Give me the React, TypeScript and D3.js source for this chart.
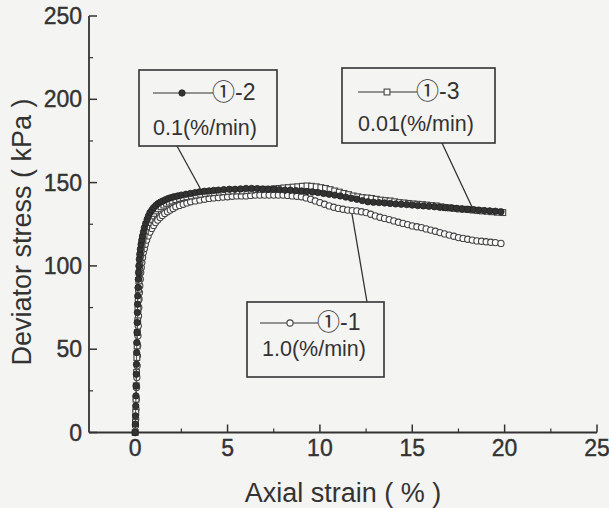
import React from "react";
import * as d3 from "d3";

const xTicks = [0, 5, 10, 15, 20, 25];
const xMinor = [2.5, 7.5, 12.5, 17.5, 22.5];
const yTicks = [0, 50, 100, 150, 200, 250];
const yMinor = [25, 75, 125, 175, 225];

// ①-2 0.1(%/min), filled circles
const s2Strain = [0, 0.01, 0.02, 0.03, 0.04, 0.05, 0.06, 0.07, 0.08, 0.09, 0.1, 0.11, 0.12, 0.13, 0.14, 0.155, 0.17, 0.185, 0.2, 0.225, 0.25, 0.28, 0.32, 0.36, 0.4, 0.45, 0.5, 0.57, 0.65, 0.72, 0.8, 0.9, 1.0, 1.12, 1.25, 1.37, 1.5, 1.65, 1.8, 1.95, 2.1, 2.3, 2.5, 2.75, 3.0, 3.25, 3.5, 3.75, 4.0, 4.25, 4.5, 4.8, 5.1, 5.4, 5.7, 6.0, 6.3, 6.6, 6.9, 7.2, 7.5, 7.8, 8.1, 8.4, 8.7, 9.0, 9.3, 9.6, 9.9, 10.2, 10.5, 10.8, 11.1, 11.4, 11.7, 12.0, 12.3, 12.6, 12.9, 13.2, 13.5, 13.8, 14.1, 14.4, 14.7, 15.0, 15.3, 15.6, 15.9, 16.2, 16.5, 16.8, 17.1, 17.4, 17.7, 18.0, 18.3, 18.6, 18.9, 19.2, 19.5, 19.8];
const s2Stress = [0, 5, 10, 16, 22, 28, 35, 41, 48, 54, 60, 66, 72, 77, 82, 87, 92, 96, 100, 104, 107, 110, 113, 115.5, 118, 120.5, 123, 125.5, 128, 130, 132, 133.5, 135, 136.3, 137.5, 138.3, 139, 139.8, 140.5, 141, 141.5, 142, 142.5, 143, 143.5, 144, 144.5, 144.8, 145, 145.3, 145.5, 145.8, 146, 146, 146.2, 146.5, 146.5, 146.4, 146.1, 146, 146, 145.8, 145.5, 145.5, 145.2, 145, 144.7, 144.4, 144, 143.5, 143, 142.5, 142, 141.3, 140.6, 140, 139.2, 138.5, 138.2, 138, 137.8, 137.5, 137.2, 137, 136.8, 136.5, 136.2, 136, 135.8, 135.5, 135.2, 135, 134.8, 134.5, 134.2, 134, 133.8, 133.5, 133.2, 133, 132.8, 132.5];

// ①-3 0.01(%/min), open squares
const s3Strain = [0, 0.015, 0.03, 0.045, 0.06, 0.075, 0.09, 0.105, 0.12, 0.135, 0.15, 0.165, 0.18, 0.2, 0.22, 0.245, 0.27, 0.3, 0.33, 0.37, 0.42, 0.48, 0.55, 0.62, 0.7, 0.8, 0.9, 1.0, 1.1, 1.25, 1.4, 1.55, 1.7, 1.85, 2.0, 2.2, 2.4, 2.6, 2.8, 3.05, 3.3, 3.55, 3.8, 4.05, 4.3, 4.55, 4.8, 5.05, 5.3, 5.55, 5.8, 6.05, 6.3, 6.55, 6.8, 7.05, 7.3, 7.55, 7.8, 8.05, 8.3, 8.55, 8.8, 9.05, 9.3, 9.55, 9.8, 10.05, 10.3, 10.55, 10.8, 11.05, 11.3, 11.55, 11.8, 12.05, 12.3, 12.55, 12.8, 13.05, 13.3, 13.55, 13.8, 14.05, 14.3, 14.55, 14.8, 15.05, 15.3, 15.55, 15.8, 16.05, 16.3, 16.55, 16.8, 17.05, 17.3, 17.55, 17.8, 18.05, 18.3, 18.55, 18.8, 19.05, 19.3, 19.6, 19.9];
const s3Stress = [0, 6, 12, 20, 28, 36, 45, 52, 60, 67, 74, 80, 86, 91, 96, 100, 104, 107, 110, 113, 116, 118.5, 121, 123.5, 126, 128, 130, 131.5, 133, 134.3, 135.5, 136.5, 137.5, 138.3, 139, 139.8, 140.5, 141, 141.5, 142, 142.5, 143, 143.5, 143.8, 144, 144.3, 144.5, 144.8, 145, 145, 145, 145.3, 145.5, 145.8, 146, 146, 146, 146.3, 146.5, 146.8, 147, 147.3, 147.5, 147.8, 148, 147.8, 147.5, 147, 146.5, 145.8, 145, 144.3, 143.5, 142.8, 142, 141.5, 141, 140.8, 140.5, 140, 139.5, 139.2, 139, 138.5, 138, 137.8, 137.5, 137.2, 137, 136.8, 136.5, 136.2, 136, 135.5, 135, 134.8, 134.5, 134.2, 134, 133.8, 133.5, 133.2, 133, 132.8, 132.5, 132.2, 132];

// ①-1 1.0(%/min), open circles
const s1Strain = [0, 0.015, 0.03, 0.045, 0.06, 0.075, 0.09, 0.105, 0.12, 0.135, 0.15, 0.165, 0.18, 0.195, 0.21, 0.23, 0.25, 0.275, 0.3, 0.33, 0.36, 0.4, 0.44, 0.5, 0.55, 0.62, 0.7, 0.8, 0.9, 1.0, 1.1, 1.22, 1.35, 1.47, 1.6, 1.75, 1.9, 2.05, 2.2, 2.4, 2.6, 2.8, 3.0, 3.25, 3.5, 3.75, 4.0, 4.25, 4.5, 4.75, 5.0, 5.25, 5.5, 5.75, 6.0, 6.25, 6.5, 6.75, 7.0, 7.25, 7.5, 7.75, 8.0, 8.25, 8.5, 8.75, 9.0, 9.25, 9.5, 9.75, 10.0, 10.25, 10.5, 10.75, 11.0, 11.25, 11.5, 11.75, 12.0, 12.25, 12.5, 12.75, 13.0, 13.25, 13.5, 13.75, 14.0, 14.25, 14.5, 14.75, 15.0, 15.25, 15.5, 15.75, 16.0, 16.25, 16.5, 16.75, 17.0, 17.25, 17.5, 17.75, 18.0, 18.25, 18.5, 18.75, 19.0, 19.25, 19.5, 19.8];
const s1Stress = [0, 4, 8, 14, 20, 27, 33, 40, 46, 52, 58, 64, 70, 75, 80, 84, 88, 92, 96, 99, 102, 105, 108, 110.5, 113, 115.5, 118, 120.3, 122.5, 124.3, 126, 127.5, 129, 130.3, 131.5, 132.5, 133.5, 134.5, 135.5, 136.3, 137, 137.8, 138.5, 139, 139.5, 140, 140.5, 140.8, 141, 141.3, 141.5, 141.8, 142, 142, 142, 142.3, 142.5, 142.5, 142.5, 142.5, 142.5, 142.5, 142.5, 142.3, 142, 141.8, 141.5, 140.8, 140, 139, 138, 137, 136, 135.2, 134.5, 134, 133.5, 133.2, 133, 132.5, 132, 131, 130, 129.2, 128.5, 127.8, 127, 126.2, 125.5, 124.8, 124, 123.5, 123, 122.2, 121.5, 120.8, 120, 119.2, 118.5, 117.8, 117, 116.5, 116, 115.5, 115, 114.8, 114.5, 114.2, 114, 113.5];

const W = 609;
const H = 508;
const INK = "#333";
const BG = "#f4f4f2";

const x = d3.scaleLinear().domain([-2.5, 25]).range([89, 597]);
const y = d3.scaleLinear().domain([0, 250]).range([432.5, 16]);

const line = d3
  .line<[number, number]>()
  .x((d) => x(d[0]))
  .y((d) => y(d[1]));

function zip(a: number[], b: number[]): [number, number][] {
  return a.map((v, i) => [v, b[i]]);
}

const font = "'Liberation Sans', Arial, sans-serif";
const cfont = "'Noto Sans CJK JP', 'Liberation Sans', sans-serif";

function Marker({ kind, cx, cy }: { kind: string; cx: number; cy: number }) {
  if (kind === "square")
    return <rect x={cx - 2.9} y={cy - 2.9} width={5.8} height={5.8} fill="#fafafa" stroke="#444" strokeWidth={1.1} />;
  if (kind === "filled") return <circle cx={cx} cy={cy} r={3.2} fill="#333" stroke="#222" strokeWidth={0.8} />;
  return <circle cx={cx} cy={cy} r={3.1} fill="#fafafa" stroke="#444" strokeWidth={1.1} />;
}

function Series({ data, kind }: { data: [number, number][]; kind: string }) {
  return (
    <g>
      <path d={line(data) || ""} fill="none" stroke="#555" strokeWidth={1} />
      {data.map((d, i) => (
        <Marker key={i} kind={kind} cx={x(d[0])} cy={y(d[1])} />
      ))}
    </g>
  );
}

function LegendBox({
  x0, y0, w, h, kind, num, rate, lx0, lx1, ly, mx, tx, rx, rb,
}: {
  x0: number; y0: number; w: number; h: number; kind: string; num: string; rate: string;
  lx0: number; lx1: number; ly: number; mx: number; tx: number; rx: number; rb: number;
}) {
  return (
    <g>
      <rect x={x0} y={y0} width={w} height={h} fill={BG} stroke={INK} strokeWidth={1.6} />
      <line x1={lx0} x2={lx1} y1={ly} y2={ly} stroke={INK} strokeWidth={1} />
      <Marker kind={kind} cx={mx} cy={ly} />
      <text x={tx - 1} y={ly + 7} fontFamily={font} fontSize={23} fill={INK}>
        <tspan fontFamily={cfont} fontSize={23}>①</tspan>
        <tspan>{"-" + num}</tspan>
      </text>
      <text x={rx} y={rb + 2} fontFamily={font} fontSize={21.5} fill={INK}>
        {rate}
      </text>
    </g>
  );
}

export default function App() {
  const d1 = zip(s1Strain, s1Stress);
  const d2 = zip(s2Strain, s2Stress);
  const d3s = zip(s3Strain, s3Stress);
  return (
    <svg
      width={W}
      height={H}
      style={{ position: "absolute", left: 0, top: 0, background: BG }}
      xmlns="http://www.w3.org/2000/svg"
    >
      <rect width={W} height={H} fill={BG} />
      {/* axes */}
      <line x1={x(-2.5)} x2={x(-2.5)} y1={y(250)} y2={y(0)} stroke={INK} strokeWidth={1.8} />
      <line x1={x(-2.5)} x2={x(25)} y1={y(0)} y2={y(0)} stroke={INK} strokeWidth={1.8} />
      {yTicks.map((t) => (
        <g key={"y" + t}>
          <line x1={x(-2.5)} x2={x(-2.5) + 8} y1={y(t)} y2={y(t)} stroke={INK} strokeWidth={1.5} />
          <text x={82} y={y(t) + 8} textAnchor="end" fontFamily={font} fontSize={23} fill={INK} stroke={INK} strokeWidth={0.4}>
            {t}
          </text>
        </g>
      ))}
      {yMinor.map((t) => (
        <line key={"ym" + t} x1={x(-2.5)} x2={x(-2.5) + 4} y1={y(t)} y2={y(t)} stroke={INK} strokeWidth={1.2} />
      ))}
      {xTicks.map((t) => (
        <g key={"x" + t}>
          <line x1={x(t)} x2={x(t)} y1={y(0)} y2={y(0) - 8} stroke={INK} strokeWidth={1.5} />
          <text x={x(t)} y={456} textAnchor="middle" fontFamily={font} fontSize={23} fill={INK} stroke={INK} strokeWidth={0.4}>
            {t}
          </text>
        </g>
      ))}
      {xMinor.map((t) => (
        <line key={"xm" + t} x1={x(t)} x2={x(t)} y1={y(0)} y2={y(0) - 4} stroke={INK} strokeWidth={1.2} />
      ))}
      <text x={343} y={502} textAnchor="middle" fontFamily={font} fontSize={27} fill={INK}>
        Axial strain ( % )
      </text>
      <text
        transform="translate(31,232) rotate(-90)"
        textAnchor="middle"
        fontFamily={font}
        fontSize={27}
        fill={INK}
      >
        Deviator stress ( kPa )
      </text>

      {/* series */}
      <Series data={d1} kind="circle" />
      <Series data={d3s} kind="square" />
      <Series data={d2} kind="filled" />

      {/* leaders */}
      <line x1={177} y1={146} x2={200} y2={188} stroke={INK} strokeWidth={1.3} />
      <line x1={442} y1={143} x2={472} y2={207} stroke={INK} strokeWidth={1.3} />
      <line x1={352} y1={214} x2={367} y2={302} stroke={INK} strokeWidth={1.3} />

      <LegendBox x0={139} y0={70} w={138} h={76} kind="filled" num="2" rate="0.1(%/min)"
        lx0={153} lx1={213} ly={93} mx={182} tx={213} rx={153} rb={133} />
      <LegendBox x0={342} y0={68} w={153} h={75} kind="square" num="3" rate="0.01(%/min)"
        lx0={358} lx1={417} ly={92} mx={387} tx={417} rx={358} rb={129} />
      <LegendBox x0={247} y0={302} w={137} h={75} kind="circle" num="1" rate="1.0(%/min)"
        lx0={260} lx1={318} ly={323} mx={290} tx={318} rx={262} rb={354} />
    </svg>
  );
}
